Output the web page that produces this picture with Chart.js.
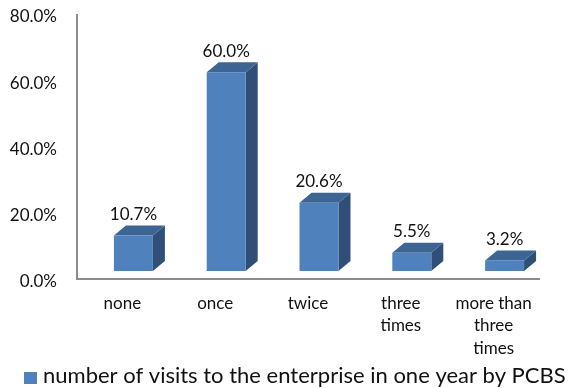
<!DOCTYPE html>
<html>
<head>
<meta charset="utf-8">
<title>Visits by PCBS</title>
<script src="https://cdn.jsdelivr.net/npm/chart.js@4.4.1/dist/chart.umd.min.js"></script>
<style>
  html, body { margin: 0; padding: 0; background: #fff; }
  #wrap { position: relative; width: 572px; height: 388px; }
</style>
</head>
<body>
<div id="wrap"><canvas id="visitsChart"></canvas></div>
<script>
// chart data
const categories = [['none'], ['once'], ['twice'], ['three', 'times'], ['more than', 'three', 'times']];
const visitShares = [10.7, 60.0, 20.6, 5.5, 3.2];
const yTicks = [0, 20, 40, 60, 80];
const seriesLabel = 'number of visits to the enterprise in one year by PCBS';

const FONT = 'Lato, "Open Sans", sans-serif';
const TEXT = '#111';
const FRONT = '#4f81bd', TOP = '#3d6594', SIDE = '#304e78';
// front face is pushed up/right of the scale position, depth goes back-right
const SHIFT_X = 11, SHIFT_Y = -11, DEPTH_X = 12, DEPTH_Y = -10;

Chart.defaults.font.family = FONT;
Chart.defaults.color = TEXT;

const boxes3d = {
    id: 'boxes3d',
    beforeDatasetsDraw(chart) {
        const ctx = chart.ctx;
        const area = chart.chartArea;
        ctx.save();

        // wall and floor edges
        ctx.strokeStyle = '#8c8c8c';
        ctx.lineWidth = 2;
        ctx.beginPath();
        ctx.moveTo(area.left + 1, area.top - 3);
        ctx.lineTo(area.left + 1, area.bottom - 3);
        ctx.lineTo(area.right, area.bottom - 3);
        ctx.stroke();

        const values = chart.data.datasets[0].data;
        chart.getDatasetMeta(0).data.forEach((bar, i) => {
            const { x, y, base, width } = bar.getProps(['x', 'y', 'base', 'width'], true);
            const l = x + SHIFT_X - width / 2, r = l + width;
            const t = y + SHIFT_Y, b = base + SHIFT_Y;

            // side
            ctx.fillStyle = SIDE;
            ctx.beginPath();
            ctx.moveTo(r, b);
            ctx.lineTo(r + DEPTH_X, b + DEPTH_Y);
            ctx.lineTo(r + DEPTH_X, t + DEPTH_Y);
            ctx.lineTo(r, t);
            ctx.closePath();
            ctx.fill();

            // top
            ctx.fillStyle = TOP;
            ctx.beginPath();
            ctx.moveTo(l, t);
            ctx.lineTo(l + DEPTH_X, t + DEPTH_Y);
            ctx.lineTo(r + DEPTH_X, t + DEPTH_Y);
            ctx.lineTo(r, t);
            ctx.closePath();
            ctx.fill();

            // front
            ctx.fillStyle = FRONT;
            ctx.fillRect(l, t, width, b - t);

            // value label
            ctx.fillStyle = TEXT;
            ctx.font = '17px ' + FONT;
            ctx.textAlign = 'center';
            ctx.textBaseline = 'middle';
            ctx.fillText(values[i].toFixed(1) + '%', x + SHIFT_X, t + DEPTH_Y - 11);
        });
        ctx.restore();
        return false;
    },
    afterDraw(chart) {
        // legend entry under the axis labels
        const ds = chart.data.datasets[0];
        const ctx = chart.ctx;
        ctx.save();
        ctx.fillStyle = ds.backgroundColor;
        ctx.fillRect(24, 372, 13, 12);
        ctx.fillStyle = TEXT;
        ctx.font = '22px ' + FONT;
        ctx.textAlign = 'left';
        ctx.textBaseline = 'alphabetic';
        ctx.fillText(ds.label, 43, 383);
        ctx.restore();
    }
};

const ctx = document.getElementById('visitsChart').getContext('2d');
const visitsChart = new Chart(ctx, {
    type: 'bar',
    data: {
        labels: categories,
        datasets: [{
            label: seriesLabel,
            data: visitShares,
            backgroundColor: FRONT,
            barPercentage: 0.42,
            categoryPercentage: 1.0
        }]
    },
    options: {
        responsive: true,
        maintainAspectRatio: false,
        animation: false,
        layout: {
            padding: { top: 17, right: 32, left: 0, bottom: 0 }
        },
        plugins: {
            legend: { display: false },
            tooltip: { enabled: false }
        },
        scales: {
            x: {
                grid: { display: false, drawTicks: false },
                border: { display: false },
                ticks: {
                    padding: 10,
                    maxRotation: 0,
                    autoSkip: false,
                    font: { size: 17, lineHeight: 1.32 }
                },
                afterFit: scale => { scale.height = 106; }
            },
            y: {
                min: 0,
                max: 80,
                grid: { display: false, drawTicks: false },
                border: { display: false },
                ticks: {
                    padding: 19,
                    font: { size: 17 },
                    callback: v => v.toFixed(1) + '%'
                },
                afterBuildTicks: scale => {
                    scale.ticks = yTicks.map(v => ({ value: v }));
                },
                afterFit: scale => {
                    scale.width = 76;
                    scale.paddingTop = 0;
                    scale.paddingBottom = 0;
                }
            }
        }
    },
    plugins: [boxes3d]
});
</script>
</body>
</html>
